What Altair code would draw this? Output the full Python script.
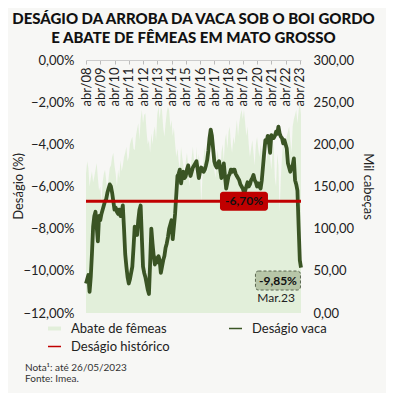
import altair as alt
import pandas as pd

# Monthly index: 0 = abr/2008 ... 181 = mai/2023
desagio_vaca = [
    -10.6, -10.4, -10.2, -11.0, -10.3, -9.2, -7.9, -7.4, -7.2, -7.9, -8.6, -7.4,
    -7.6, -7.3, -7.1, -6.9, -6.7, -6.6, -6.3, -6.1, -5.9, -6.0, -6.3, -6.7,
    -7.1, -7.0, -7.2, -7.3, -7.1, -7.4, -7.2, -6.9, -8.0, -9.2, -9.8, -10.3,
    -10.6, -10.4, -10.1, -9.8, -8.9, -7.9, -8.1, -8.3, -7.6, -7.1, -6.9, -8.4,
    -9.8, -10.1, -10.3, -10.6, -10.9, -11.1, -9.6, -8.0, -8.7, -9.3, -9.7, -9.4,
    -9.6, -9.3, -9.5, -10.1, -9.8, -9.5, -9.3, -8.9, -8.7, -8.4, -8.0, -7.8,
    -7.6, -8.5, -7.9, -7.3, -6.4, -5.5, -5.4, -5.2, -5.85, -5.5, -5.3, -5.6,
    -5.5, -5.2, -5.0, -5.3, -5.5, -5.3, -5.1, -5.0, -4.9, -4.8, -5.2, -5.6,
    -5.3, -5.1, -5.2, -5.3, -5.2, -5.0, -4.75, -4.3, -3.7, -3.3, -3.6, -4.2,
    -4.8, -5.0, -5.1, -4.9, -4.8, -5.2, -5.6, -5.2, -4.9, -5.5, -6.1, -5.8,
    -5.5, -5.4, -5.2, -5.3, -5.2, -5.2, -5.4, -5.5, -5.6, -5.7, -5.9, -6.0,
    -6.1, -6.3, -6.2, -6.0, -5.8, -6.0, -5.9, -5.7, -5.6, -5.45, -5.7, -5.8,
    -6.0, -5.85, -6.0, -6.1, -5.7, -5.06, -4.4, -3.8, -3.9, -3.6, -3.9, -4.4,
    -3.56, -3.7, -3.7, -3.6, -3.4, -3.5, -3.16, -3.48, -3.64, -3.7, -3.95, -3.8,
    -4.0, -4.2, -4.9, -5.1, -5.3, -5.1, -5.0, -4.67, -5.7, -5.9, -6.2, -7.9,
    -9.5, -9.85,
]

abate_femeas = [
    165, 180, 172, 150, 160, 168, 155, 162, 170, 178, 160, 145,
    150, 130, 155, 165, 170, 158, 140, 160, 172, 175, 185, 190,
    175, 165, 150, 170, 160, 181, 168, 175, 185, 190, 197, 180,
    185, 200, 205, 209, 195, 193, 210, 218, 225, 205, 230, 241,
    225, 235, 237, 215, 200, 205, 190, 213, 200, 215, 221, 205,
    235, 245, 230, 245, 240, 220, 209, 225, 238, 245, 240, 220,
    229, 210, 220, 201, 185, 195, 180, 170, 197, 185, 175, 160,
    180, 190, 175, 150, 170, 185, 197, 180, 160, 197, 175, 189,
    170, 130, 160, 185, 197, 180, 165, 190, 201, 185, 175, 195,
    170, 160, 185, 193, 175, 165, 190, 200, 180, 205, 213, 195,
    215, 221, 200, 190, 209, 200, 215, 229, 210, 225, 235, 241,
    230, 241, 225, 210, 221, 200, 185, 195, 205, 190, 175, 200,
    209, 195, 185, 200, 190, 175, 201, 190, 180, 195, 201, 185,
    170, 190, 201, 160, 150, 189, 175, 120, 160, 185, 205, 190,
    200, 210, 215, 221, 205, 190, 221, 230, 235, 241, 225, 240,
    250, 235,
]

desagio_historico = -6.70
series = ["Abate de fêmeas", "Deságio vaca", "Deságio histórico"]
colors = ["#e2efda", "#3a5424", "#c00000"]
tick_years = list(range(0, 181, 12))

n = len(desagio_vaca)
df_line = pd.DataFrame({"t": list(range(n)), "v": desagio_vaca, "serie": series[1]})
df_area = pd.DataFrame({"t": list(range(n)), "v": abate_femeas, "serie": series[0]})
df_rule = pd.DataFrame({"v": [desagio_historico], "serie": [series[2]]})

FONT = "Lato"
THICK = "M-1.3,-0.4H1.3V0.4H-1.3Z"
THIN = "M-1.3,-0.15H1.3V0.15H-1.3Z"


def color_for(i, lx, ly, shape):
    return alt.Color(
        "serie:N",
        scale=alt.Scale(domain=[series[i]], range=[colors[i]]),
        legend=alt.Legend(
            title=None, orient="none", legendX=lx, legendY=ly,
            labelFontSize=13, labelFont=FONT, labelColor="#222",
            symbolSize=100, labelOffset=10, padding=0, symbolType=shape,
            symbolFillColor=colors[i], symbolStrokeWidth=0, symbolOpacity=1,
        ),
    )


x_axis = alt.Axis(
    orient="bottom", offset=-253, values=tick_years, title=None,
    labelExpr="'abr/' + (datum.value/12 + 8 < 10 ? '0' : '') + (datum.value/12 + 8)",
    labelAngle=-90, labelFontSize=13, labelColor="#222", labelPadding=3,
    labelOverlap=False, labelBound=False,
    tickSize=4, tickColor="#bbb", domainColor="#ccc", grid=False, labelFont=FONT,
)
x_scale = alt.Scale(domain=[0, 181], nice=False, zero=False)
x_enc = alt.X("t:Q", scale=x_scale, axis=x_axis)

area = alt.Chart(df_area).mark_area(opacity=1).encode(
    x=x_enc,
    y=alt.Y(
        "v:Q", scale=alt.Scale(domain=[0, 300], nice=False),
        axis=alt.Axis(
            orient="right", values=list(range(0, 301, 50)), title="Mil cabeças",
            titleAngle=90, titleFontSize=13, titleFontWeight="normal", titleColor="#222",
            titleX=66, titleY=126, titleAlign="center", titleBaseline="middle",
            labelExpr="replace(format(datum.value, '.2f'), '.', ',')",
            labelFontSize=13, labelColor="#222", labelPadding=12, ticks=False,
            domain=False, grid=False, labelFont=FONT, titleFont=FONT,
        ),
    ),
    color=color_for(0, -38, 262, THICK),
)

y_axis = alt.Axis(
    orient="left", values=list(range(-12, 1, 2)), title="Deságio (%)",
    titleFontSize=13, titleFontWeight="normal", titleColor="#222",
    titleX=-68, titleY=126, titleAngle=-90, titleAlign="center", titleBaseline="middle",
    labelExpr="replace(format(datum.value, '.2f'), '.', ',') + '%'",
    labelFontSize=13, labelColor="#222", labelPadding=12, ticks=False,
    domain=False, grid=False, labelFont=FONT, titleFont=FONT,
)
y_scale = alt.Scale(domain=[-12, 0], nice=False)
y_left = alt.Y("v:Q", scale=y_scale, axis=y_axis)

line = alt.Chart(df_line).mark_line(strokeWidth=3.8, strokeJoin="round").encode(
    x=x_enc, y=y_left, color=color_for(1, 143, 262, THIN),
)

rule = alt.Chart(df_rule).mark_rule(strokeWidth=3).encode(
    y=y_left,
    color=color_for(2, -38, 280, THIN),
)

df_lbl1 = pd.DataFrame({"t": [133.0], "v": [desagio_historico], "txt": ["-6,70%"]})
box1 = alt.Chart(df_lbl1).mark_rect(width=48, height=19, color="#c00000", cornerRadius=3).encode(
    x=x_enc, y=y_left,
)
txt1 = alt.Chart(df_lbl1).mark_text(fontSize=12, fontWeight="bold", color="#111", font=FONT).encode(
    x=x_enc, y=y_left, text="txt:N",
)

df_lbl2 = pd.DataFrame({"t": [161.6], "v": [-10.46], "txt": ["-9,85%"]})
box2 = alt.Chart(df_lbl2).mark_rect(
    width=45, height=19, color="#b7c6a8", stroke="#5a6650", strokeDash=[3, 2],
    strokeWidth=1, cornerRadius=3,
).encode(x=x_enc, y=y_left)
txt2 = alt.Chart(df_lbl2).mark_text(fontSize=12, fontWeight="bold", color="#111", font=FONT).encode(
    x=x_enc, y=y_left, text="txt:N",
)
df_lbl3 = pd.DataFrame({"t": [160.0], "v": [-11.3], "txt": ["Mar.23"]})
txt3 = alt.Chart(df_lbl3).mark_text(fontSize=12, color="#222", font=FONT).encode(
    x=x_enc, y=y_left, text="txt:N",
)

notes = pd.DataFrame({"txt": ["Nota¹: até 26/05/2023", "Fonte: Imea."], "yy": [311, 322]})
note_txt = alt.Chart(notes).mark_text(
    align="left", baseline="alphabetic", fontSize=10, color="#333", font=FONT,
).encode(x=alt.value(-61), y=alt.Y("yy:Q", scale=None), text="txt:N")

left_layers = alt.layer(line, rule, box1, txt1, box2, txt2, txt3, note_txt).resolve_scale(color="independent")

chart = alt.layer(area, left_layers).resolve_scale(y="independent", color="independent").properties(
    width=215, height=253,
    padding={"left": 78, "top": 52, "right": 85, "bottom": 80},
    autosize=alt.AutoSizeParams(type="none"),
    background="#f7f7f5",
    title=alt.TitleParams(
        text=["DESÁGIO DA ARROBA DA VACA SOB O BOI GORDO", "E ABATE DE FÊMEAS EM MATO GROSSO"],
        fontSize=15, fontWeight=900, font=FONT, color="#111", anchor="middle",
        lineHeight=19, offset=8,
    ),
).configure_view(stroke=None).configure_axisX(labelOverlap=False)

chart.save("out.html", embed_options={"renderer": "svg", "actions": False})
